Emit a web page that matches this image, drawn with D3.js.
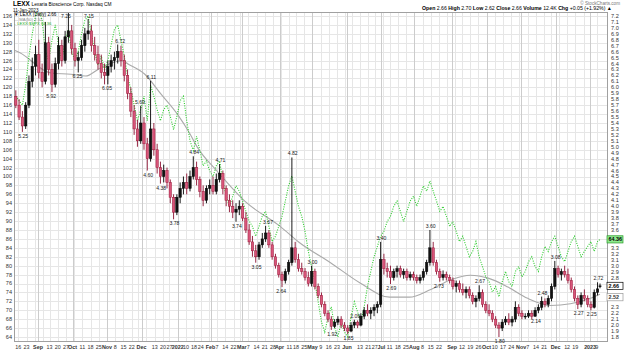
<!DOCTYPE html>
<html><head><meta charset="utf-8">
<script src="https://cdn.jsdelivr.net/npm/d3@7"></script>
<style>body{margin:0;background:#fff;} svg{display:block;font-family:"Liberation Sans",Arial,sans-serif;}</style>
</head><body><svg id="c" width="624" height="351"></svg>
<script>
// ---------- DATA ----------
const startDate = "2021-08-12", endDate = "2023-01-11";
const holidays = ["2021-09-06","2021-11-25","2021-12-24","2022-01-17","2022-02-21","2022-04-15","2022-05-30","2022-06-20","2022-07-04","2022-09-05","2022-11-24","2022-12-26","2023-01-02"];
// candles: one per two trading days
const opens = [5.85,5.70,5.50,5.35,5.70,6.10,6.35,6.55,6.25,6.10,
6.75,6.30,6.05,6.40,6.70,6.45,6.85,6.95,6.65,6.45,
6.50,6.70,6.90,6.95,6.70,6.55,6.40,6.25,6.20,6.35,
6.45,6.50,6.60,6.45,6.20,5.90,5.60,5.30,5.10,5.40,
5.05,4.80,5.30,4.95,4.65,4.50,4.60,4.40,4.15,3.90,
4.15,4.30,4.40,4.30,4.50,4.65,4.45,4.25,4.10,4.30,
4.35,4.25,4.45,4.55,4.30,4.10,4.00,3.90,3.95,4.00,
3.80,3.60,3.40,3.25,3.15,3.35,3.45,3.55,3.35,3.15,
3.00,2.85,2.75,2.90,3.05,3.30,3.10,2.95,2.90,2.80,
2.70,2.90,2.65,2.50,2.35,2.20,2.10,1.98,2.05,2.10,
2.00,1.95,1.90,2.00,2.05,2.00,2.15,2.25,2.20,2.25,
2.30,2.35,3.10,2.95,2.90,2.80,2.90,2.95,2.85,2.90,
2.80,2.85,2.80,2.75,2.80,2.90,3.05,3.30,3.05,2.90,
2.80,2.85,2.80,2.75,2.65,2.70,2.60,2.55,2.60,2.50,
2.40,2.45,2.55,2.35,2.25,2.20,2.10,2.00,1.95,2.05,
2.10,2.05,2.10,2.30,2.20,2.15,2.15,2.20,2.15,2.25,
2.30,2.40,2.35,2.45,2.65,2.95,2.85,2.90,2.85,2.75,
2.60,2.45,2.35,2.50,2.45,2.35,2.30,2.55,2.66];
const highs = [5.95,5.80,5.60,5.75,6.20,6.50,6.70,6.80,6.40,7.10,
6.85,6.40,6.50,6.85,6.80,6.95,7.25,7.05,6.75,6.60,
6.80,7.00,7.15,7.05,6.85,6.70,6.55,6.40,6.45,6.55,
6.60,6.72,6.70,6.55,6.30,6.00,5.70,5.45,5.69,5.50,
5.15,6.11,5.40,5.05,4.75,4.70,4.65,4.45,4.20,4.20,
4.40,4.50,4.55,4.60,4.84,4.75,4.50,4.35,4.35,4.45,
4.50,4.55,4.71,4.60,4.35,4.20,4.10,4.05,4.10,4.05,
3.90,3.70,3.50,3.35,3.40,3.55,3.67,3.60,3.40,3.20,
3.05,2.90,2.95,3.10,4.82,3.40,3.20,3.05,2.96,2.90,
3.00,2.95,2.70,2.55,2.40,2.25,2.15,2.10,2.15,2.15,
2.05,2.00,2.05,2.09,2.08,2.20,2.30,2.35,2.30,2.35,
2.40,3.40,3.20,3.05,3.00,2.95,3.00,3.00,2.95,2.95,
2.90,2.90,2.85,2.85,2.95,3.10,3.60,3.40,3.10,2.95,
2.92,2.90,2.85,2.80,2.75,2.75,2.70,2.65,2.65,2.55,
2.50,2.67,2.60,2.40,2.35,2.25,2.15,2.05,2.10,2.15,
2.20,2.15,2.40,2.35,2.25,2.20,2.25,2.25,2.30,2.35,
2.48,2.45,2.50,2.70,3.08,3.00,2.95,3.00,2.95,2.80,
2.65,2.50,2.55,2.60,2.50,2.40,2.60,2.72,2.70];
const lows = [5.65,5.45,5.25,5.30,5.65,6.00,6.20,6.15,6.00,6.05,
6.20,5.92,6.00,6.30,6.35,6.40,6.75,6.55,6.35,6.25,
6.45,6.60,6.80,6.60,6.45,6.30,6.15,6.05,6.05,6.25,
6.30,6.40,6.35,6.10,5.80,5.50,5.20,5.00,5.05,4.95,
4.60,4.75,4.85,4.55,4.38,4.40,4.30,4.05,3.78,3.85,
4.05,4.20,4.20,4.25,4.45,4.35,4.15,4.00,4.05,4.20,
4.20,4.20,4.40,4.20,4.00,3.90,3.80,3.74,3.85,3.75,
3.55,3.35,3.15,3.05,3.10,3.30,3.40,3.30,3.10,2.95,
2.80,2.64,2.70,2.85,3.00,3.05,2.90,2.85,2.75,2.65,
2.65,2.60,2.45,2.30,2.15,2.05,1.92,1.95,2.00,1.95,
1.90,1.85,1.88,1.95,1.95,1.98,2.10,2.15,2.10,2.15,
2.20,2.30,2.85,2.80,2.69,2.75,2.80,2.80,2.78,2.75,
2.75,2.75,2.70,2.70,2.75,2.85,3.00,3.00,2.85,2.73,
2.75,2.75,2.70,2.60,2.55,2.55,2.50,2.45,2.45,2.35,
2.30,2.40,2.30,2.20,2.15,2.05,1.95,1.80,1.90,2.00,
2.00,1.98,2.05,2.15,2.10,2.10,2.12,2.10,2.14,2.20,
2.25,2.30,2.30,2.40,2.60,2.80,2.75,2.80,2.70,2.55,
2.40,2.27,2.30,2.40,2.30,2.25,2.28,2.50,2.62];
const closes = [5.70,5.50,5.35,5.70,6.10,6.35,6.55,6.25,6.10,6.75,
6.30,6.05,6.40,6.70,6.45,6.85,6.95,6.65,6.45,6.50,
6.70,6.90,6.95,6.70,6.55,6.40,6.25,6.20,6.35,6.45,
6.50,6.60,6.45,6.20,5.90,5.60,5.30,5.10,5.40,5.05,
4.80,5.30,4.95,4.65,4.50,4.60,4.40,4.15,3.90,4.15,
4.30,4.40,4.30,4.50,4.65,4.45,4.25,4.10,4.30,4.35,
4.25,4.45,4.55,4.30,4.10,4.00,3.90,3.95,4.00,3.80,
3.60,3.40,3.25,3.15,3.35,3.45,3.55,3.35,3.15,3.00,
2.85,2.75,2.90,3.05,3.30,3.10,2.95,2.90,2.80,2.70,
2.90,2.65,2.50,2.35,2.20,2.10,1.98,2.05,2.10,2.00,
1.95,1.90,2.00,2.05,2.00,2.15,2.25,2.20,2.25,2.30,
2.35,3.10,2.95,2.90,2.80,2.90,2.95,2.85,2.90,2.80,
2.85,2.80,2.75,2.80,2.90,3.05,3.30,3.05,2.90,2.80,
2.85,2.80,2.75,2.65,2.70,2.60,2.55,2.60,2.50,2.40,
2.45,2.55,2.35,2.25,2.20,2.10,2.00,1.95,2.05,2.10,
2.05,2.10,2.30,2.20,2.15,2.15,2.20,2.15,2.25,2.30,
2.40,2.35,2.45,2.65,2.95,2.85,2.90,2.85,2.75,2.60,
2.45,2.35,2.50,2.45,2.35,2.30,2.55,2.61,2.66];
// relative overlay (left axis), one per two trading days
const relative = [118,117,116,120.5,127,132,136,137.5,135,128,
126,130.5,134,129.5,126,130.5,133,128,126,128,
132,135,136,132,128,125,127,124,126,129.5,
133,134,130.5,127,122.5,119.5,116,112.5,115,118,
112.5,120.5,118,115,112.5,115,116,113.5,110.5,113.5,
117,118,112.5,108,105.8,109,105.8,102.4,103.5,101.2,
100,102.4,103.5,99,95.6,93.3,95.6,97.9,96.7,94.5,
92.2,90,88.8,86.6,88.8,91.1,92.2,88.8,85.4,86.6,
88.8,91.1,94.5,97.9,100.1,96.7,93.3,91.1,87.7,83.2,
79.8,76.4,71.9,67.4,65.1,68.5,70.8,66.2,64,67.4,
65.1,64,68.5,71.9,69.6,67.4,70.8,75.3,78.7,82,
84.3,86.6,87.7,89.9,91.1,93.3,94.5,92.2,89.9,92.2,
94.5,95.6,93.3,95.6,97.9,96.7,99,96.7,94.5,92.2,
93.3,91.1,88.8,89.9,87.7,85.4,86.6,84.3,82,83.2,
85.4,82,79.8,77.5,76.4,74.1,75.3,73,76.4,78.7,
76.4,75.3,78.7,79.8,77.5,78.7,80.9,82,79.8,78.7,
82,84.3,83.2,85.4,86.6,84.3,82,80.9,83.2,85.4,
86.6,84.3,82,83.2,84.3,85.4,83.2,85.4,85.9];
const relativeLast = "64.36";
// moving average (price axis)
const maDates = ["2021-08-12","2021-08-17","2021-09-14","2021-09-30","2021-10-13","2021-10-25","2021-11-04","2021-11-12","2021-11-18","2021-12-03","2021-12-17","2022-01-03","2022-01-12","2022-01-20","2022-02-07","2022-03-03","2022-04-01","2022-04-20","2022-05-17","2022-06-13","2022-07-11","2022-07-27","2022-08-15","2022-09-01","2022-09-19","2022-10-04","2022-10-20","2022-11-07","2022-11-28","2022-12-14","2023-01-03","2023-01-11"];
const maValues = [6.62,6.58,6.24,6.22,6.19,6.31,6.41,6.45,6.39,6.22,5.88,5.54,5.24,4.99,4.59,4.08,3.67,3.39,3.05,2.71,2.47,2.47,2.60,2.77,2.84,2.79,2.64,2.45,2.33,2.36,2.45,2.52];
const peakLabels = [["2021-08-19","5.25","b"],["2021-09-14","5.92","b"],["2021-09-27","7.25","a"],["2021-10-06","6.25","b"],["2021-10-15","7.15","a"],["2021-11-01","6.05","b"],["2021-11-11","6.72","a"],["2021-11-30","5.69","a"],["2021-12-07","4.60","b"],["2021-12-09","6.11","a"],["2021-12-17","4.38","b"],["2021-12-30","3.78","b"],["2022-01-18","4.84","a"],["2022-02-09","4.71","a"],["2022-02-24","3.74","b"],["2022-03-14","3.05","b"],["2022-03-23","3.67","a"],["2022-04-04","2.64","b"],["2022-04-13","4.82","a"],["2022-05-02","3.00","a"],["2022-05-18","1.92","b"],["2022-06-02","1.85","b"],["2022-06-08","2.09","a"],["2022-07-01","3.40","a"],["2022-07-12","2.69","b"],["2022-08-15","3.60","a"],["2022-08-22","2.73","b"],["2022-09-27","2.67","a"],["2022-10-13","1.80","b"],["2022-11-14","2.14","b"],["2022-11-18","2.48","a"],["2022-12-01","3.08","a"],["2022-12-21","2.27","b"],["2023-01-04","2.25","b"],["2023-01-10","2.72","a"]];
const leftTicks = [136,134,132,130,128,126,124,122,120,118,116,114,112,110,108,106,104,102,100,98,96,94,92,90,88,86,84,82,80,78,76,74,72,70,68,66,64];
const rightTicks = ["7.2","7.1","7.0","6.9","6.8","6.7","6.6","6.5","6.4","6.3","6.2","6.1","6.0","5.9","5.8","5.7","5.6","5.5","5.4","5.3","5.2","5.1","5.0","4.9","4.8","4.7","4.6","4.5","4.4","4.3","4.2","4.1","4.0","3.9","3.8","3.7","3.6","3.5","3.4","3.3","3.2","3.1","3.0","2.9","2.8","2.7","2.6","2.5","2.4","2.3","2.2","2.1","2.0","1.9","1.8"];
const xTicks = [["2021-08-16","16",0],["2021-08-23","23",0],["2021-09-01","Sep",1],["2021-09-13","13",0],["2021-09-20","20",0],["2021-09-27","27",0],["2021-10-01","Oct",1],["2021-10-11","11",0],["2021-10-18","18",0],["2021-10-25","25",0],["2021-11-01","Nov",1],["2021-11-08","8",0],["2021-11-15","15",0],["2021-11-22","22",0],["2021-12-01","Dec",1],["2021-12-13","13",0],["2021-12-20","20",0],["2021-12-27","27",0],["2022-01-03","2022",1],["2022-01-10","10",0],["2022-01-18","18",0],["2022-01-24","24",0],["2022-02-01","Feb",1],["2022-02-07","7",0],["2022-02-14","14",0],["2022-02-22","22",0],["2022-03-01","Mar",1],["2022-03-07","7",0],["2022-03-14","14",0],["2022-03-21","21",0],["2022-03-28","28",0],["2022-04-01","Apr",1],["2022-04-11","11",0],["2022-04-18","18",0],["2022-04-25","25",0],["2022-05-02","May",1],["2022-05-09","9",0],["2022-05-16","16",0],["2022-05-23","23",0],["2022-06-01","Jun",1],["2022-06-13","13",0],["2022-06-21","21",0],["2022-06-27","27",0],["2022-07-01","Jul",1],["2022-07-11","11",0],["2022-07-18","18",0],["2022-07-25","25",0],["2022-08-01","Aug",1],["2022-08-08","8",0],["2022-08-15","15",0],["2022-08-22","22",0],["2022-09-01","Sep",1],["2022-09-12","12",0],["2022-09-19","19",0],["2022-09-26","26",0],["2022-10-03","Oct",1],["2022-10-10","10",0],["2022-10-17","17",0],["2022-10-24","24",0],["2022-11-01","Nov",1],["2022-11-07","7",0],["2022-11-14","14",0],["2022-11-21","21",0],["2022-12-01","Dec",1],["2022-12-12","12",0],["2022-12-19","19",0],["2023-01-03","2023",1],["2023-01-09","9",0]];

// ---------- LAYOUT ----------
const P = {l:14, r:607, t:12, b:341};
const svg = d3.select("#c");
const hol = new Set(holidays);
const days = [];
for (let t = Date.parse(startDate+"T00:00:00Z"); t <= Date.parse(endDate+"T00:00:00Z"); t += 86400000) {
  const dt = new Date(t), wd = dt.getUTCDay(), s = dt.toISOString().slice(0,10);
  if (wd !== 0 && wd !== 6 && !hol.has(s)) days.push(s);
}
const idx = new Map(days.map((s,i)=>[s,i]));
const x = d3.scaleLinear().domain([0, days.length-1]).range([15, 600]);
const yR = d3.scaleLinear().domain([1.8, 7.2]).range([337, 16]);
const yL = d3.scaleLinear().domain([64, 136]).range([337, 16]);

svg.append("defs").append("clipPath").attr("id","pc").append("rect")
  .attr("x",P.l).attr("y",P.t).attr("width",P.r-P.l).attr("height",P.b-P.t);

// grid
const g = svg.append("g");
g.selectAll("line.h").data(leftTicks).join("line")
  .attr("x1",P.l).attr("x2",P.r).attr("y1",d=>Math.round(yL(d))+0.5).attr("y2",d=>Math.round(yL(d))+0.5)
  .attr("stroke","#e6e6e6").attr("stroke-width",1);
const weekStarts = [], monthStarts = [];
days.forEach((s,i)=>{
  if (i===0) return;
  const a = new Date(days[i-1]+"T00:00:00Z"), b = new Date(s+"T00:00:00Z");
  if (a.getUTCMonth() !== b.getUTCMonth()) monthStarts.push(i);
  else if (b.getUTCDay() < a.getUTCDay() || (b - a) > 3*86400000) weekStarts.push(i);
});
g.selectAll("line.w").data(weekStarts).join("line")
  .attr("x1",d=>Math.round(x(d))+0.5).attr("x2",d=>Math.round(x(d))+0.5).attr("y1",P.t).attr("y2",P.b)
  .attr("stroke","#e6e6e6");
g.selectAll("line.m").data(monthStarts).join("line")
  .attr("x1",d=>Math.round(x(d))+0.5).attr("x2",d=>Math.round(x(d))+0.5).attr("y1",P.t).attr("y2",P.b)
  .attr("stroke","#cccccc");
svg.append("rect").attr("x",P.l+0.5).attr("y",P.t+0.5).attr("width",P.r-P.l).attr("height",P.b-P.t)
  .attr("fill","none").attr("stroke","#a0a0a0");

const plot = svg.append("g").attr("clip-path","url(#pc)");
// moving average
plot.append("path").datum(maDates.map((d,i)=>[idx.get(d), maValues[i]]))
  .attr("d", d3.line().x(d=>x(d[0])).y(d=>yR(d[1])).curve(d3.curveMonotoneX))
  .attr("fill","none").attr("stroke","#aaaaaa").attr("stroke-width",1.1);
// relative overlay
const cx = k => (x(2*k) + x(Math.min(2*k+1, days.length-1)))/2;
plot.append("path").datum(relative)
  .attr("d", d3.line().x((d,k)=>cx(k)).y(d=>yL(d)))
  .attr("fill","none").attr("stroke","#2ecc2e").attr("stroke-width",1.1).attr("stroke-dasharray","1,1.4");
// candles
const candles = opens.map((o,k)=>({k,o,h:highs[k],l:lows[k],c:closes[k]}));
const cg = plot.selectAll("g.c").data(candles).join("g");
cg.append("line").attr("x1",d=>cx(d.k)).attr("x2",d=>cx(d.k)).attr("y1",d=>yR(d.h)).attr("y2",d=>yR(d.l))
  .attr("stroke",d=>d.c>=d.o?"#000":"#8a1030").attr("stroke-width",0.9);
cg.append("rect").attr("x",d=>cx(d.k)-1.2).attr("width",2.4)
  .attr("y",d=>yR(Math.max(d.o,d.c))).attr("height",d=>Math.max(0.8, Math.abs(yR(d.o)-yR(d.c))))
  .attr("fill",d=>d.c>=d.o?"#111":"#d8557a").attr("stroke",d=>d.c>=d.o?"#000":"#9a1838").attr("stroke-width",0.5);

// peak labels (kept inside the plot)
svg.selectAll("text.pk").data(peakLabels).join("text")
  .attr("x",d=>x(idx.get(d[0]))).attr("y",d=>d[2]==="a"? Math.max(18, yR(+d[1])-2) : yR(+d[1])+6)
  .attr("text-anchor","middle").attr("font-size",5.1).attr("fill","#222").text(d=>d[1]);

// value tags on the right (drawn over the axis)
const tags = [
  {y: yL(relative[relative.length-1]), text: relativeLast, fill:"#8ee88e", stroke:"#2a9a2a", color:"#000"},
  {y: yR(closes[closes.length-1]), text: closes[closes.length-1].toFixed(2), fill:"#fff", stroke:"#000", color:"#000"},
  {y: yR(maValues[maValues.length-1]) + 3, text: maValues[maValues.length-1].toFixed(2), fill:"#fff", stroke:"#999", color:"#333"}
];
const hidden = v => tags.some(t => Math.abs(t.y - yR(+v)) < 5);

// axes labels
svg.selectAll("text.l").data(leftTicks).join("text")
  .attr("x",12).attr("y",d=>yL(d)).attr("dy","0.35em").attr("text-anchor","end")
  .attr("font-size",5.6).attr("fill","#333").text(d=>d);
svg.selectAll("text.r").data(rightTicks.filter(v=>!hidden(v))).join("text")
  .attr("x",611).attr("y",d=>yR(+d)).attr("dy","0.35em")
  .attr("font-size",5.6).attr("fill","#333").text(d=>d);
svg.selectAll("text.x").data(xTicks).join("text")
  .attr("x",d=>x(idx.get(d[0]))).attr("y",347).attr("dy","0.35em").attr("text-anchor","middle")
  .attr("font-size",5.4).attr("font-weight",d=>d[2]?"bold":"normal").attr("fill","#333").text(d=>d[1]);

tags.forEach(t=>{
  svg.append("rect").attr("x",607).attr("y",t.y-3.6).attr("width",16).attr("height",7.2)
    .attr("fill",t.fill).attr("stroke",t.stroke).attr("stroke-width",0.7);
  svg.append("text").attr("x",608.5).attr("y",t.y).attr("dy","0.35em").attr("font-size",5.4)
    .attr("font-weight","bold").attr("fill",t.color).text(t.text);
});

// header (white backing so the plot lines stay under it)
const hd = svg.append("text").attr("x",13).attr("y",6).attr("font-size",4.8).attr("fill","#000");
hd.append("tspan").attr("font-weight","bold").attr("font-size",6.4).text("LEXX ");
hd.append("tspan").text("Lexaria Bioscience Corp.  Nasdaq CM");
svg.append("text").attr("x",13).attr("y",11.5).attr("font-size",4.6).attr("fill","#000").text("11-Jan-2023");
svg.append("text").attr("x",14).attr("y",16.3).attr("font-size",4.6).attr("fill","#000").text("\u25BC LEXX (Daily) 2.66");
svg.append("text").attr("x",14).attr("y",20.5).attr("font-size",4.2).attr("fill","#888").text("\u2014 MA(50) 2.52");
svg.append("text").attr("x",14).attr("y",24.7).attr("font-size",4.2).attr("fill","#22aa22").text("\u2024 LEXX:$SPX 64.36");
svg.append("text").attr("x",620).attr("y",4.5).attr("text-anchor","end").attr("font-size",4.6).attr("fill","#777").text("\u00A9 StockCharts.com");
const info = svg.append("text").attr("x",612).attr("y",10).attr("text-anchor","end").attr("font-size",5.2).attr("fill","#000");
[["Open ","2.66 "],["High ","2.70 "],["Low ","2.62 "],["Close ","2.66 "],["Volume ","12.4K "],["Chg ","+0.05 (+1.92%) \u25B2"]].forEach(p=>{
  info.append("tspan").attr("font-weight","bold").text(p[0]);
  info.append("tspan").text(p[1]);
});
</script></body></html>
